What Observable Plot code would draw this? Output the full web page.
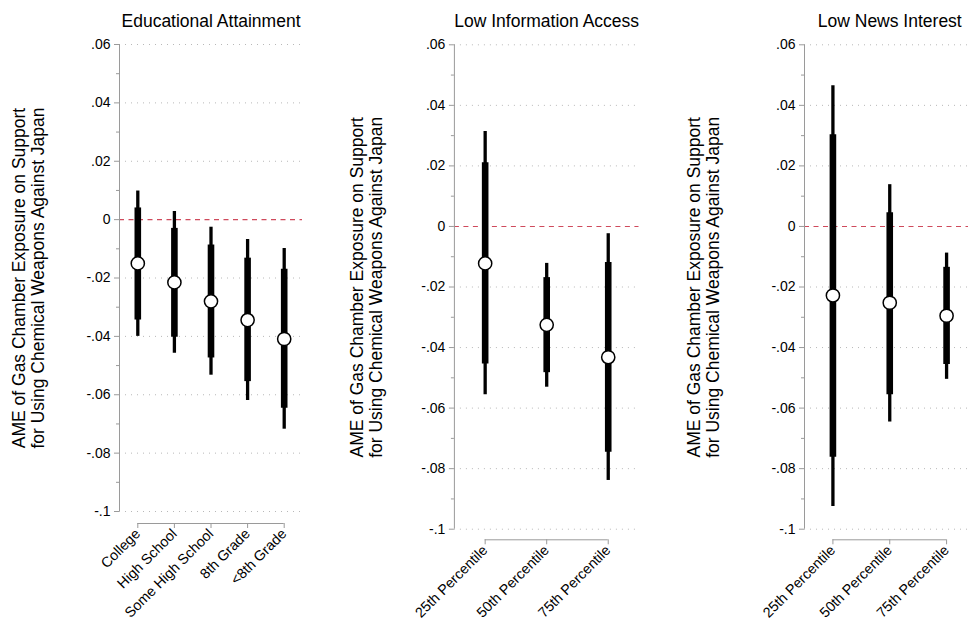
<!DOCTYPE html>
<html>
<head>
<meta charset="utf-8">
<script src="https://cdn.jsdelivr.net/npm/d3@7"></script>
<script src="https://cdn.jsdelivr.net/npm/@observablehq/plot@0.6"></script>
<style>
  html, body { margin: 0; padding: 0; background: #fff; }
  #wrap { position: relative; width: 968px; height: 621px; overflow: hidden; background: #fff; }
  #wrap svg { position: absolute; top: 0; }
</style>
</head>
<body>
<div id="wrap"></div>
<script>
// ---- Data ----
const eduCats = ["College", "High School", "Some High School", "8th Grade", "<8th Grade"];
const eduEst  = [-0.0150, -0.0215, -0.0280, -0.0344, -0.0409];
const eduLo90 = [-0.0344, -0.0403, -0.0474, -0.0555, -0.0646];
const eduHi90 = [ 0.0040, -0.0030, -0.0087, -0.0132, -0.0170];
const eduLo95 = [-0.0400, -0.0458, -0.0533, -0.0620, -0.0718];
const eduHi95 = [ 0.0098,  0.0028, -0.0026, -0.0068, -0.0099];

const pctCats = ["25th Percentile", "50th Percentile", "75th Percentile"];
const infoEst  = [-0.0122, -0.0325, -0.0432];
const infoLo90 = [-0.0454, -0.0483, -0.0746];
const infoHi90 = [ 0.0210, -0.0169, -0.0119];
const infoLo95 = [-0.0556, -0.0531, -0.0839];
const infoHi95 = [ 0.0314, -0.0122, -0.0024];

const newsEst  = [-0.0228, -0.0252, -0.0295];
const newsLo90 = [-0.0762, -0.0556, -0.0456];
const newsHi90 = [ 0.0303,  0.0045, -0.0135];
const newsLo95 = [-0.0925, -0.0646, -0.0505];
const newsHi95 = [ 0.0465,  0.0138, -0.0088];

const yTicks = [-0.1, -0.08, -0.06, -0.04, -0.02, 0, 0.02, 0.04, 0.06];
const yTickLabels = ["-.1", "-.08", "-.06", "-.04", "-.02", "0", ".02", ".04", ".06"];
const yMinor = [-0.09, -0.07, -0.05, -0.03, -0.01, 0.01, 0.03, 0.05];

const titles = ["Educational Attainment", "Low Information Access", "Low News Interest"];
const yLabel = "AME of Gas Chamber Exposure on Support\nfor Using Chemical Weapons Against Japan";

// ---- Build ----
function rows(cats, est, lo90, hi90, lo95, hi95) {
  return cats.map((c, i) => ({i, cat: c, est: est[i], lo90: lo90[i], hi90: hi90[i], lo95: lo95[i], hi95: hi95[i]}));
}

const FONT = "'Liberation Sans', Arial, Helvetica, sans-serif";
const AXIS = "#9a9a9a";

function panel(cfg) {
  const {data, cats, title, left, width, mL, mR, yB, yT, gap, labDx, labDy} = cfg;
  const H = 621;
  const n = cats.length;
  const fmt = v => yTickLabels[yTicks.findIndex(t => Math.abs(t - v) < 1e-9)];
  const p = Plot.plot({
    width, height: H,
    marginLeft: mL, marginRight: mR, marginTop: yT, marginBottom: H - yB - gap,
    style: {fontFamily: FONT, background: "transparent", overflow: "visible"},
    x: {type: "linear", domain: [-0.5, n - 0.5], axis: null},
    y: {domain: [-0.1, 0.06], range: [yB, yT], axis: null},
    marks: [
      Plot.gridY(yTicks.filter(t => t !== 0), {stroke: "#b8b8b8", strokeOpacity: 1, strokeDasharray: "1,5"}),
      Plot.ruleY([0], {stroke: "#cf4a5c", strokeWidth: 1.1, strokeDasharray: "5,4.5"}),
      Plot.ruleX([-0.5], {y1: -0.1, y2: 0.06, stroke: AXIS}),
      Plot.ruleY([-0.1], {x1: 0, x2: n - 1, dy: gap, stroke: AXIS}),
      Plot.axisY(yTicks, {label: null, tickSize: 5, tickPadding: 4, tickFormat: fmt, stroke: AXIS, fill: "black", fontSize: 14}),
      Plot.axisY(yMinor, {label: null, tickSize: 3, stroke: AXIS, fill: "none"}),
      Plot.axisX(d3.range(n), {label: null, tickSize: 5, tickPadding: 3, tickRotate: -45, tickFormat: i => cats[i], stroke: AXIS, fill: "black", fontSize: 14.3}),
      Plot.ruleX(data, {x: "i", y1: "lo95", y2: "hi95", stroke: "black", strokeWidth: 3.3}),
      Plot.ruleX(data, {x: "i", y1: "lo90", y2: "hi90", stroke: "black", strokeWidth: 6.6}),
      Plot.dot(data, {x: "i", y: "est", r: 6.6, fill: "white", stroke: "black", strokeWidth: 1.5}),
      Plot.text([title], {frameAnchor: "top", dy: -17.5, lineAnchor: "bottom", fontSize: 17.5, fill: "black"}),
      Plot.text([yLabel], {frameAnchor: "left", rotate: -90, dx: labDx, dy: labDy, textAnchor: "middle", lineAnchor: "middle", lineHeight: 1.09, fontSize: 17.5, fill: "black"})
    ]
  });
  p.style.left = left + "px";
  return p;
}

const wrap = document.getElementById("wrap");
wrap.appendChild(panel({
  data: rows(eduCats, eduEst, eduLo90, eduHi90, eduLo95, eduHi95), cats: eduCats, title: titles[0],
  left: 0, width: 320, mL: 119, mR: 18, yB: 511, yT: 44, gap: 12, labDx: -91.5, labDy: -6
}));
wrap.appendChild(panel({
  data: rows(pctCats, infoEst, infoLo90, infoHi90, infoLo95, infoHi95), cats: pctCats, title: titles[1],
  left: 330, width: 320, mL: 123.9, mR: 11.5, yB: 528.7, yT: 44.3, gap: 10.6, labDx: -88, labDy: -5
}));
wrap.appendChild(panel({
  data: rows(pctCats, newsEst, newsLo90, newsHi90, newsLo95, newsHi95), cats: pctCats, title: titles[2],
  left: 660, width: 330, mL: 144, mR: 15.5, yB: 528.7, yT: 44.3, gap: 10.6, labDx: -101.5, labDy: -5
}));
</script>
</body>
</html>
